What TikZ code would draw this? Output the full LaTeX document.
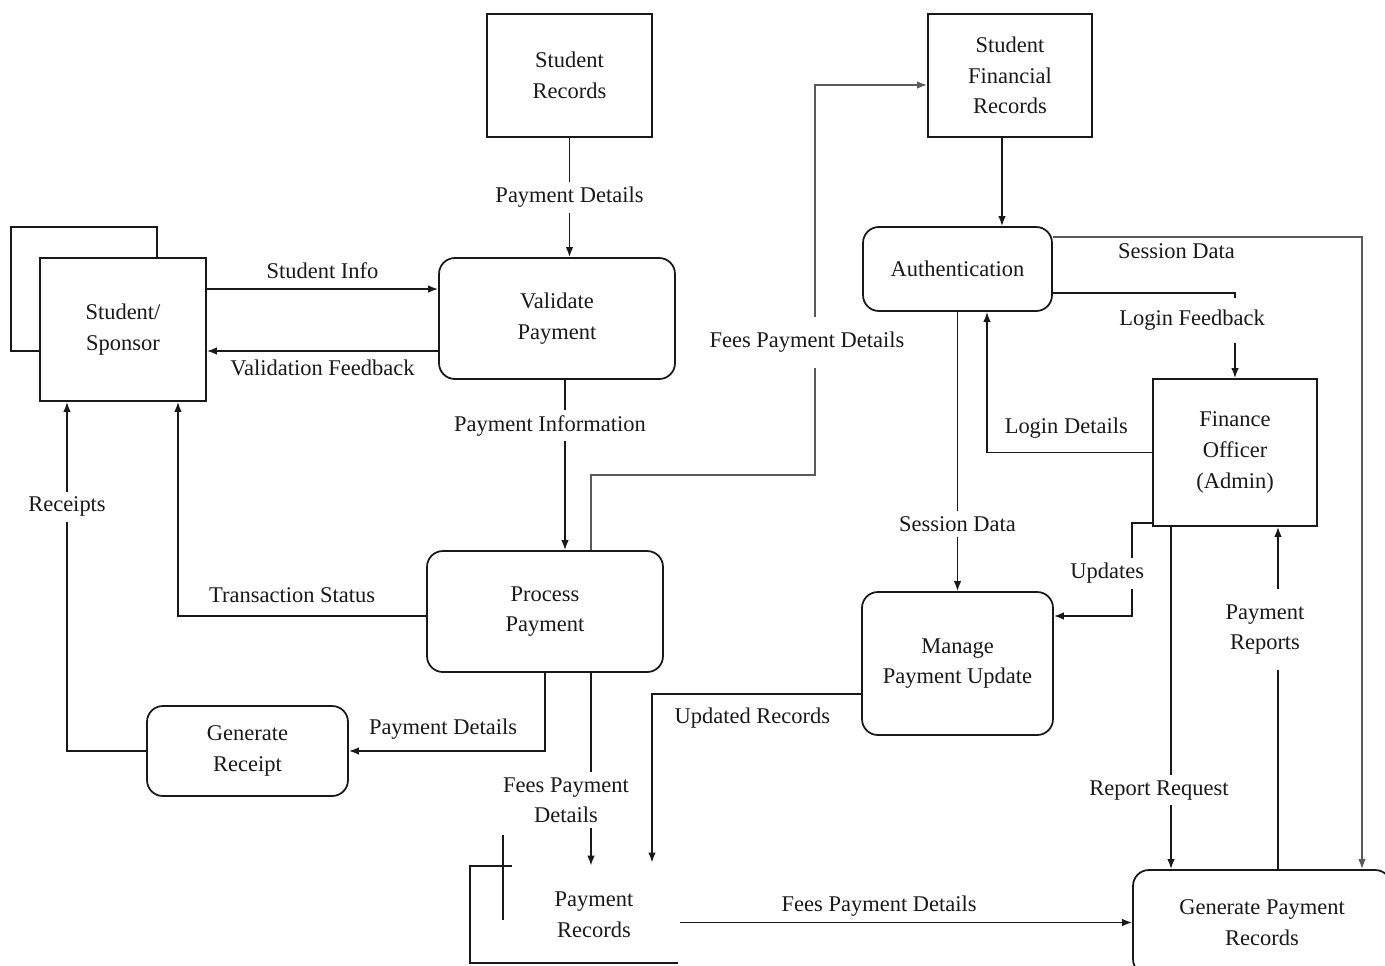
\documentclass[tikz,border=0pt]{standalone}
\usepackage{fontspec}
\setmainfont{Liberation Serif}
\usetikzlibrary{arrows.meta,positioning,calc}
\definecolor{dfLine}{RGB}{ 25, 25, 25}
\definecolor{dfGrey}{RGB}{ 90, 90, 90}

\begin{document}
\begin{tikzpicture}[
  x=0.02cm,y=-0.02cm,
  every node/.style={font=\fontsize{12.8}{17.5}\selectfont,text=dfLine},
  >={Latex[length=2mm,width=1.5mm]},
  ent/.style ={draw=dfLine,line width=1pt,fill=white,align=center,inner sep=0pt},
  proc/.style={draw=dfLine,line width=1pt,fill=white,rounded corners=9pt,
               align=center,inner sep=0pt},
  lbl/.style ={fill=white,inner sep=3pt,align=center},
  flow/.style={->,line width=0.9pt,dfLine}
]
\useasboundingbox (0,0) rectangle (1385,965);
\clip (0,0) rectangle (1385,965);

\node[ent,minimum width=3.3cm,minimum height=2.46cm]  (SR)  at (569.5,75.5) {Student\\Records};
\node[ent,minimum width=3.28cm,minimum height=2.46cm] (SFR) at (1010,75.5)  {Student\\Financial\\Records};
\node[ent,minimum width=2.92cm,minimum height=2.48cm] (SSb) at (84,289)     {};
\node[ent,minimum width=3.32cm,minimum height=2.86cm] (SS)  at (123,329.5)  {Student/\\Sponsor};
\node[proc,minimum width=4.72cm,minimum height=2.42cm] (VP) at (557,318.5)  {Validate\\Payment};
\node[proc,minimum width=3.78cm,minimum height=1.68cm] (AU) at (957.5,269)  {Authentication};
\node[ent,minimum width=3.28cm,minimum height=2.94cm]  (FO) at (1235,452.5) {Finance\\Officer\\(Admin)};
\node[proc,minimum width=4.72cm,minimum height=2.42cm] (PP) at (545,611.5)  {Process\\Payment};
\node[proc,minimum width=3.82cm,minimum height=2.86cm] (MU) at (957.5,663.5) {Manage\\Payment Update};
\node[proc,minimum width=4.02cm,minimum height=1.8cm]  (GR) at (247.5,751)  {Generate\\Receipt};
\node[proc,minimum width=5.16cm,minimum height=2.1cm]  (GPR) at (1262,922.5) {Generate Payment\\Records};
\node[align=center,minimum width=3.44cm,minimum height=1.3cm] (PR) at (594,915) {Payment\\Records};

% data store outline
\draw[line width=1pt,dfLine] (503,835) -- (503,920) (512,866) -- (470,866) -- (470,963) -- (678,963);

\coordinate (si)  at ([yshift=0.81cm]SS.east);
\coordinate (vf)  at ([yshift=-0.43cm]SS.east);
\coordinate (vp1) at ([xshift=0.16cm]VP.south);
\coordinate (pp1) at ([xshift=0.92cm]PP.north);
\coordinate (pp2) at ([yshift=-0.09cm]PP.west);
\coordinate (ss1) at ([xshift=1.1cm]SS.south);
\coordinate (ss2) at ([xshift=-1.12cm]SS.south);
\coordinate (sf1) at ([yshift=-0.19cm]SFR.west);
\coordinate (prtop) at ([xshift=-0.06cm,yshift=0.33cm]PR.north);
\coordinate (prin)  at ([xshift=1.16cm,yshift=0.39cm]PR.north);
\coordinate (mu1) at ([yshift=-0.61cm]MU.west);
\coordinate (sf2) at ([xshift=-0.16cm]SFR.south);
\coordinate (au1) at ([yshift=0.64cm]AU.east);
\coordinate (au2) at ([yshift=-0.48cm]AU.east);
\coordinate (au3) at ([xshift=0.59cm]AU.south);
\coordinate (gp1) at ([xshift=2cm]GPR.north);
\coordinate (fo1) at ([yshift=0.08cm]FO.south west);
\coordinate (mu2) at ([yshift=0.95cm]MU.east);
\coordinate (fo2) at ([xshift=-1.28cm]FO.south);
\coordinate (fo3) at ([xshift=0.86cm]FO.south);

\draw[flow] (SR.south) -- node[lbl]{Payment Details} (SR.south |- VP.north);
\draw[flow] (si) -- node[above=2pt]{Student Info} (si -| VP.west);
\draw[flow] (vf -| VP.west) -- node[below=1pt]{Validation Feedback} (vf);
\draw[flow] (vp1) -- node[lbl,pos=0.27,xshift=-0.3cm]{Payment Information} (vp1 |- PP.north);
\draw[flow,dfGrey] (pp1) -- ++(0,-75) -- ++(224,0)
  |- node[lbl,pos=0.17,xshift=-0.16cm,inner ysep=0.3cm]{Fees Payment Details} (sf1 -| SFR.west);
\draw[flow] (pp2) -| node[above=4pt,pos=0.27]{Transaction Status} (ss1);
\draw[flow] (PP.south) |- node[above=3pt,pos=0.76]{Payment Details} (GR.east);
\draw[flow] (GR.west) -| node[lbl,pos=0.85]{Receipts} (ss2);
\draw[flow] (prtop |- PP.south) -- node[lbl,pos=0.66,xshift=-0.5cm]{Fees Payment\\Details} (prtop);
\draw[flow] (mu1) -| node[below=4pt,pos=0.26]{Updated Records} (prin);
\draw[flow] (PR.east |- GPR.west) -- node[above,pos=0.44]{Fees Payment Details} (GPR.west);

\draw[flow] (sf2) -- (sf2 |- AU.north);
\draw[flow,dfGrey] (au1) -| node[below,pos=0.2]{Session Data} (gp1);
\draw[flow] (au2) -| node[lbl,pos=0.66,xshift=-0.86cm,inner ysep=0.25cm]{Login Feedback} (FO.north);
\draw[flow] (FO.west) -| node[above=4pt,pos=0.26]{Login Details} (au3);
\draw[flow] (AU.south) -- node[lbl,pos=0.76]{Session Data} (MU.north);
\draw[flow] (fo1) -- ++(-20,0) |- node[lbl,pos=0.27,xshift=-0.5cm]{Updates} (mu2);
\draw[flow] (fo2) -- node[lbl,pos=0.77,xshift=-0.24cm]{Report Request} (fo2 |- GPR.north);
\draw[flow] (fo3 |- GPR.north) -- node[lbl,pos=0.7,xshift=-0.26cm,inner ysep=0.3cm]{Payment\\Reports} (fo3);
\end{tikzpicture}
\end{document}
